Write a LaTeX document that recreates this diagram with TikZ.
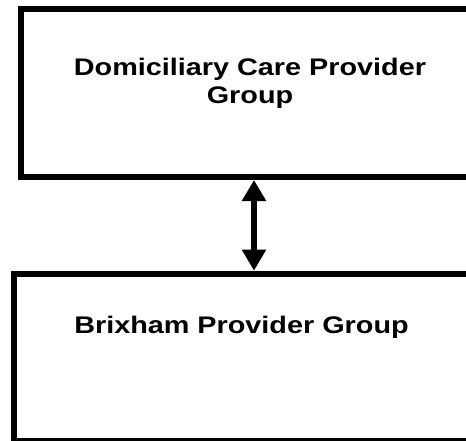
\documentclass[tikz,border=0pt]{standalone}
\usepackage{fontspec}
\setmainfont[FakeStretch=1.2]{Liberation Sans}
\usetikzlibrary{arrows.meta}

\begin{document}
\begin{tikzpicture}
	[
	x=1pt, y=-1pt,
	align=center,
	groupbox/.style={draw, line width=6pt, inner sep=0pt, anchor=north west},
	grouptext/.style={font=\bfseries\fontsize{24}{27.5}\selectfont, inner sep=0pt, anchor=base},
	twoway/.style={line width=6.5pt, {Triangle[length=21pt,width=23pt]}-{Triangle[length=21pt,width=23pt]}},
	]
		\useasboundingbox (0,0) rectangle (466,441);
		\clip (0,0) rectangle (466,441);
		
		% domiciliary care group
		\node[groupbox, minimum width=469pt, minimum height=168pt] (dcpbox) at 	( 18.0,   6.0 ) {};
		\node[grouptext] (dcp) at 		(250.0, 103.2 ) {Domiciliary Care Provider\\Group};
		
		% brixham group
		\node[groupbox, minimum width=476pt, minimum height=166.8pt] (bpgbox) at 	( 11.0, 270.7 ) {};
		\node[grouptext] (bpg) at 		(241.5, 333.3 ) {Brixham Provider Group};
		
		\coordinate (link) at 		(254.0,   0.0 );
		\draw[twoway] (dcpbox.south -| link) -- (bpgbox.north -| link);
		
	\end{tikzpicture}
\end{document}
